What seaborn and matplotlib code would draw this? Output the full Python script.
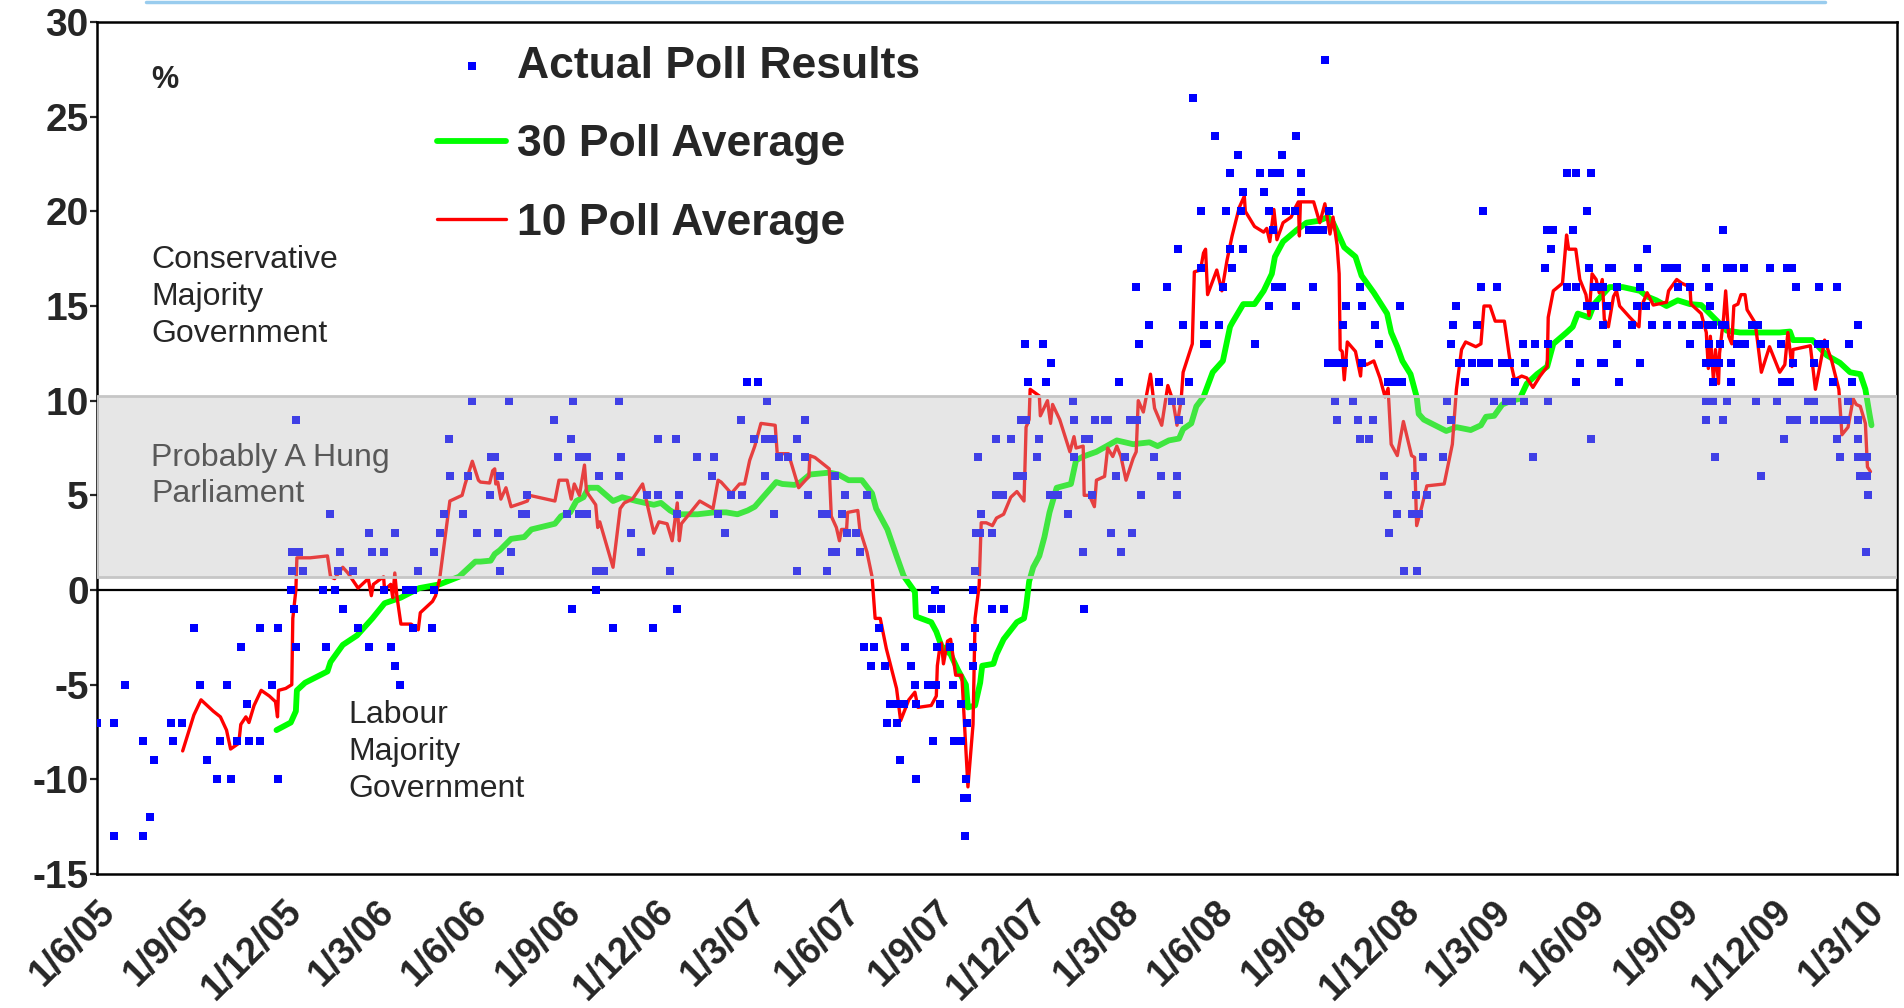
import pandas as pd
import numpy as np
import seaborn as sns
import matplotlib.pyplot as plt
import matplotlib.transforms as mtransforms
from matplotlib.lines import Line2D

START = pd.Timestamp("2005-06-01")
END = pd.Timestamp("2010-04-01")

# individual polls: days after 1 June 2005 and Conservative lead over Labour (points)
poll_day = [
    0, 17, 17, 27, 45, 45, 52, 56, 73, 75, 83, 95, 101, 108, 118, 121, 127, 131, 137, 141,
    147, 149, 160, 160, 172, 177, 177, 190, 191, 191, 193, 195, 195, 198, 202, 222, 225, 228, 233, 236,
    238, 241, 251, 256, 267, 267, 270, 281, 281, 288, 292, 292, 297, 303, 310, 310, 315, 328, 330, 330,
    336, 340, 345, 346, 359, 364, 368, 373,
    385, 386, 390, 393, 395, 395, 404, 406, 417, 421, 422, 448, 452, 461, 465, 466, 467, 473, 473, 480,
    480, 489, 489, 492, 497, 506, 512, 512, 514, 524, 533, 539, 545, 550, 550, 562, 568, 569, 569, 571,
    588, 603, 605, 609, 616, 622, 631, 632, 637, 644, 648, 655, 655, 657, 663, 664, 669, 678, 686, 686,
    694, 694, 697, 711, 716, 716, 721, 724, 725, 731, 733, 735, 744, 748,
    752, 755, 759, 762, 767, 773, 775, 778, 784, 785, 787, 791, 792, 798, 802, 803, 803, 815, 819, 820,
    822, 823, 824, 827, 828, 836, 839, 840, 847, 847, 850, 851, 852, 853, 853, 859, 859, 859, 861, 861,
    862, 864, 866, 867, 878, 878, 882, 882, 888, 889, 896, 902, 906, 908, 910, 911, 913, 922, 924, 928,
    931, 934, 935, 942, 952, 957, 958, 958, 967, 968, 969, 973, 976, 979, 988, 991, 994, 999, 1002, 1004,
    1008, 1013, 1015, 1020, 1022, 1024, 1032, 1036, 1041, 1043, 1054, 1059, 1059, 1061, 1063, 1065, 1071,
    1085, 1085, 1088, 1100, 1135,
    1019, 1049, 1060, 1075, 1083, 1083, 1096, 1104, 1107, 1111, 1111, 1113, 1119, 1122, 1124, 1124,
    1140, 1144, 1149, 1149, 1152, 1153, 1155, 1160, 1162, 1162, 1166, 1175, 1176, 1176, 1181, 1181, 1188,
    1192, 1195, 1202, 1204, 1207, 1208, 1214, 1215, 1216, 1222, 1223, 1225, 1232, 1236, 1238, 1238, 1240,
    1240, 1247, 1251, 1253, 1257, 1262, 1266, 1266, 1267, 1274, 1275, 1278, 1280, 1282, 1289, 1292, 1293,
    1294, 1296, 1300, 1304, 1320, 1324, 1328, 1328, 1330, 1333, 1336,
    1337, 1341, 1348, 1353, 1357, 1357, 1359, 1365, 1370, 1373, 1378, 1382, 1386, 1387, 1390, 1398, 1399,
    1400, 1408, 1410, 1420, 1422, 1423, 1423, 1426, 1428, 1441, 1441, 1443, 1447, 1450, 1450, 1450, 1454,
    1461, 1461, 1463, 1465, 1465, 1468, 1469, 1474, 1475, 1477, 1477, 1478, 1481, 1483, 1486, 1490, 1490,
    1492, 1505, 1510, 1511, 1513, 1513, 1519, 1520, 1525, 1538, 1539, 1544, 1549, 1550, 1554, 1562, 1562,
    1568, 1571, 1578, 1578, 1578, 1578, 1580, 1581, 1581, 1582, 1585, 1585, 1585, 1585, 1587, 1590, 1591,
    1593, 1594, 1594, 1596, 1598, 1598, 1602, 1602, 1604, 1608, 1615, 1616, 1623, 1627, 1629, 1632, 1632,
    1640, 1647, 1651, 1652, 1654, 1657, 1660, 1660, 1662, 1663, 1666, 1667, 1678, 1684, 1684, 1684, 1688,
    1689, 1693, 1694, 1701, 1702, 1706, 1706, 1709, 1709, 1715, 1717, 1718, 1721, 1727, 1727, 1727, 1727,
    1729, 1732, 1734, 1735, 1736, 1736, 1737,
]
poll_lead = [
    -7, -7, -13, -5, -8, -13, -12, -9, -7, -8, -7, -2, -5, -9, -10, -8, -5, -10, -8, -3,
    -6, -8, -2, -8, -5, -2, -10, 0, 2, 1, -1, 9, -3, 2, 1, 0, -3, 4, 0, 1,
    2, -1, 1, -2, 3, -3, 2, 2, 0, -3, 3, -4, -5, 0, 0, -2, 1, -2, 0, 2,
    3, 4, 8, 6, 4, 6, 10, 3,
    5, 7, 7, 3, 6, 1, 10, 2, 4, 4, 5, 9, 7, 4, 8, -1, 10, 7, 4, 7,
    4, 1, 0, 6, 1, -2, 10, 6, 7, 3, 2, 5, -2, 8, 5, 1, 8, 4, -1, 5,
    7, 6, 7, 4, 3, 5, 9, 5, 11, 8, 11, 8, 6, 10, 8, 4, 7, 7, 8, 1,
    9, 7, 5, 4, 4, 1, 2, 6, 2, 4, 5, 3, 3, 2,
    -3, 5, -4, -3, -2, -4, -7, -6, -7, -6, -9, -6, -3, -4, -5, -6, -10, -5, -1, -8,
    0, -5, -3, -6, -1, -3, -5, -8, -6, -8, -11, -13, -10, -7, -11, 0, -3, -4, 1, -2,
    3, 7, 3, 4, 3, -1, 8, 5, 5, -1, 8, 6, 9, 6, 13, 9, 11, 7, 8, 13,
    11, 5, 12, 5, 4, 10, 9, 7, 2, -1, 8, 8, 5, 9, 9, 9, 3, 6, 11, 2,
    7, 9, 3, 9, 13, 5, 14, 7, 11, 6, 10, 6, 5, 9, 10, 14, 11,
    14, 13, 13, 14, 13,
    16, 16, 18, 26, 20, 17, 24, 16, 20, 22, 18, 17, 23, 20, 21, 18,
    22, 21, 20, 15, 22, 19, 16, 22, 23, 16, 20, 20, 24, 15, 22, 21, 19,
    16, 19, 19, 28, 12, 20, 10, 12, 9, 14, 12, 15, 10, 9, 16, 8, 15,
    12, 8, 9, 14, 13, 6, 11, 5, 3, 11, 4, 15, 11, 1, 4, 6, 5,
    1, 4, 7, 5, 7, 10, 13, 9, 14, 15, 12,
    12, 11, 12, 14, 12, 16, 20, 12, 10, 16, 12, 10, 12, 10, 11, 13, 10,
    12, 7, 13, 17, 19, 13, 10, 18, 19, 22, 16, 13, 19, 22, 16, 11, 12,
    20, 15, 17, 22, 8, 16, 15, 16, 12, 16, 14, 12, 15, 17, 17, 16, 13,
    11, 14, 15, 17, 16, 12, 15, 18, 14, 17, 14, 17, 17, 16, 14, 16, 13,
    14, 14, 17, 12, 10, 9, 14, 16, 13, 15, 14, 12, 11, 10, 7, 12, 13,
    14, 19, 9, 14, 17, 10, 12, 11, 17, 13, 17, 13, 14, 10, 14, 13, 6,
    17, 10, 13, 11, 8, 17, 11, 9, 17, 12, 16, 9, 10, 10, 12, 9, 13,
    16, 9, 13, 9, 11, 16, 8, 9, 7, 9, 10, 13, 11, 14, 9, 8, 7,
    6, 7, 6, 2, 7, 6, 5,
]

# 10 poll moving average
ma10_day = [
    84, 95, 102, 114, 121, 127, 131, 139, 141, 146, 149, 154, 161, 169, 175, 177, 178, 185, 191, 192,
    195, 196, 209, 226, 229, 233, 241, 246, 256, 266, 269, 271, 281, 282, 288, 290, 292, 294, 298, 308,
    315, 317, 329, 332, 336, 346, 358, 361, 368, 374,
    376, 385, 388, 390, 391, 393, 396, 401, 406, 417, 422, 424, 449, 453, 461, 465, 468, 473, 478, 480,
    489, 491, 493, 506, 513, 517, 525, 535, 546, 551, 559, 564, 569, 571, 573, 591, 604, 609, 612, 622,
    630, 635, 640, 645, 651, 665, 667, 678, 688, 698, 699, 704, 718, 720, 725, 728, 730, 735, 736, 746,
    748, 755, 760, 763, 768, 774, 784, 788, 796, 802, 805, 818, 823, 824, 826, 828, 830, 834, 837, 842,
    848, 852, 854, 859, 861, 865, 867, 872, 878, 882, 889, 896, 902, 909, 911, 914, 915, 924, 925, 932,
    935, 937, 944, 954, 958, 960, 967, 968, 973, 978, 980, 988, 991, 996, 1000, 1004, 1009, 1016, 1019, 1021,
    1026, 1033, 1037, 1044, 1050, 1055, 1059, 1063, 1065, 1071,
    1074, 1076, 1082, 1085, 1087, 1089, 1098, 1103, 1108, 1113, 1120, 1125, 1126, 1135, 1144, 1147, 1150,
    1154, 1157, 1163, 1171, 1175, 1178, 1179, 1180, 1193, 1199, 1204, 1209, 1212, 1216, 1218, 1219, 1221,
    1223, 1226, 1234, 1239, 1240, 1245, 1252, 1258, 1263, 1266, 1269, 1275, 1281, 1289, 1292, 1294, 1299,
    1304, 1321, 1329, 1333, 1338, 1342, 1352, 1357, 1360, 1366, 1371, 1380, 1385, 1390, 1397, 1402, 1408,
    1415, 1422, 1423, 1428, 1437, 1441, 1443, 1450, 1454, 1460, 1463, 1466, 1470, 1473, 1476, 1478, 1482,
    1487, 1490, 1493, 1503, 1512, 1513, 1520, 1526, 1539, 1541, 1549, 1554, 1562, 1563, 1573, 1578, 1580,
    1582, 1585, 1587, 1590, 1591, 1595, 1597, 1600, 1603, 1605, 1609, 1612, 1616, 1618, 1626, 1632, 1640,
    1650, 1655, 1658, 1662, 1663, 1680, 1685, 1691, 1694, 1701, 1708, 1711, 1717, 1722, 1725, 1729, 1734,
    1736, 1739,
]
ma10_val = [
    -8.5, -6.6, -5.8, -6.4, -6.7, -7.4, -8.4, -8.1, -7.1, -6.7, -7.0, -6.1, -5.3, -5.6, -5.9, -6.7, -5.3, -5.2, -5.0, -1.5,
    0.0, 1.7, 1.7, 1.8, 0.7, 0.6, 1.2, 0.9, 0.1, 0.6, -0.3, 0.3, 0.7, 0.0, 0.3, -0.4, 0.9, -0.3, -1.8, -1.8,
    -2.1, -1.2, -0.6, -0.3, 0.6, 4.7, 5.0, 5.6, 6.8, 5.8,
    5.7, 5.65, 6.3, 6.4, 5.6, 5.7, 4.8, 5.4, 4.4, 4.6, 4.7, 5.0, 4.7, 5.8, 5.8, 4.8, 5.6, 5.0, 6.6, 5.2,
    4.5, 3.3, 3.6, 1.2, 4.3, 4.6, 4.8, 5.6, 3.0, 3.6, 3.5, 2.6, 4.6, 2.6, 3.5, 4.7, 4.3, 5.8, 5.7, 5.1,
    5.6, 5.6, 6.85, 7.6, 8.8, 8.7, 7.2, 7.2, 5.4, 6.0, 7.1, 7.0, 6.4, 3.9, 3.3, 2.6, 3.2, 3.2, 4.1, 4.2,
    3.2, 2.0, 0.7, -1.5, -1.5, -3.1, -5.2, -6.9, -5.8, -5.4, -6.2, -6.1, -5.6, -4.0, -3.2, -2.8, -3.9, -2.7, -2.6, -4.5,
    -4.5, -8.5, -10.4, -7.1, -1.5, 0.25, 3.55, 3.55, 3.4, 3.8, 4.0, 4.9, 5.2, 4.7, 8.6, 9.0, 10.6, 10.25, 9.2, 10.0,
    8.8, 9.8, 9.0, 7.3, 8.1, 7.5, 7.6, 5.0, 5.0, 4.4, 5.8, 6.0, 7.5, 7.05, 7.6, 7.05, 5.8, 6.95, 7.3, 10.0,
    9.4, 11.4, 9.6, 8.7, 10.8, 10.0, 8.7, 10.0, 11.5, 12.5,
    13.0, 16.8, 16.9, 17.8, 18.0, 15.6, 16.9, 15.8, 17.4, 18.7, 20.2, 20.8, 20.0, 19.2, 18.9, 19.1, 18.4,
    20.1, 18.5, 19.4, 19.7, 20.2, 20.5, 18.7, 20.5, 20.5, 19.4, 20.4, 18.8, 19.7, 18.2, 16.7, 12.7, 12.6,
    11.1, 13.1, 12.6, 11.3, 12.1, 11.9, 12.1, 11.2, 10.2, 10.65, 7.7, 7.1, 8.9, 7.1, 7.0, 3.4, 4.4,
    5.5, 5.6, 7.7, 10.6, 12.7, 13.1, 12.85, 13.0, 15.0, 15.0, 14.2, 14.2, 12.3, 11.1, 11.3, 11.2, 10.7,
    11.3, 11.8, 14.4, 15.8, 16.2, 18.75, 18.0, 18.0, 16.4, 15.6, 14.5, 16.7, 16.4, 15.7, 16.4, 14.3, 13.9,
    15.5, 15.8, 15.0, 14.4, 13.9, 14.8, 15.7, 15.05, 15.2, 15.8, 16.4, 16.2, 16.0, 15.1, 14.6, 13.6, 11.7,
    13.4, 11.1, 12.7, 10.9, 12.5, 14.4, 15.8, 13.4, 13.0, 15.0, 15.1, 15.6, 15.6, 14.8, 14.1, 11.5, 12.85,
    11.5, 11.9, 13.6, 11.8, 12.7, 12.9, 10.6, 12.3, 13.2, 12.1, 10.6, 8.2, 8.6, 10.1, 9.8, 9.7, 8.8,
    6.5, 6.25,
]

# 30 poll moving average
ma30_day = [
    176, 190, 195, 196, 204, 226, 229, 241, 255, 270, 282, 298, 316, 336, 355, 371,
    376, 386, 390, 395, 406, 419, 426, 449, 455, 464, 470, 477, 482, 491, 506, 515, 529, 546, 553, 562,
    569, 589, 605, 617, 628, 638, 645, 653, 666, 672, 684, 690, 699, 718, 727, 737,
    750, 760, 764, 775, 784, 791, 802, 803, 818, 823, 828, 837, 844, 852, 854, 861, 866, 868, 879, 882,
    889, 902, 909, 911, 914, 918, 924, 929, 934, 941, 955, 960, 967, 980, 990, 1000, 1016, 1032, 1040, 1051,
    1061, 1065, 1073, 1078, 1085, 1094, 1104, 1111, 1113, 1124, 1135, 1144, 1152, 1155, 1163, 1176, 1186,
    1198, 1207, 1212, 1218, 1223, 1234, 1240, 1252, 1265, 1269, 1275, 1280, 1288, 1294, 1296, 1301, 1323,
    1333, 1347, 1357, 1362, 1370, 1378, 1387, 1395, 1402, 1412, 1422, 1428, 1441, 1447, 1452, 1463, 1468,
    1483, 1496, 1513, 1520, 1529, 1539, 1550, 1562, 1573, 1585, 1598, 1611, 1631, 1650, 1660, 1663, 1682,
    1696, 1709, 1719, 1729, 1734, 1738, 1740,
]
ma30_val = [
    -7.4, -7.0, -6.4, -5.3, -4.9, -4.3, -3.8, -2.9, -2.4, -1.5, -0.7, -0.4, 0.1, 0.3, 0.7, 1.5,
    1.5, 1.55, 1.9, 2.1, 2.7, 2.8, 3.2, 3.5, 3.9, 4.1, 4.7, 4.9, 5.4, 5.4, 4.7, 4.9, 4.7, 4.5, 4.6, 4.2,
    4.0, 4.0, 4.1, 4.1, 4.0, 4.2, 4.4, 4.9, 5.7, 5.6, 5.55, 5.7, 6.1, 6.2, 6.1, 5.8,
    5.8, 5.1, 4.3, 3.2, 1.8, 0.74, -0.1, -1.4, -1.7, -2.2, -2.95, -3.4, -4.2, -5.0, -6.2, -6.1, -4.9, -4.0, -3.9, -3.4,
    -2.6, -1.7, -1.5, -0.9, 0.45, 1.2, 1.8, 2.8, 4.1, 5.4, 5.6, 6.85, 7.05, 7.3, 7.6, 7.9, 7.7, 7.8, 7.6, 7.9,
    8.0, 8.5, 8.8, 9.7, 10.2, 11.5, 12.1, 13.9, 14.1, 15.1, 15.1, 15.8, 16.7, 17.6, 18.4, 19.0, 19.4,
    19.5, 19.7, 19.4, 18.7, 18.1, 17.6, 16.6, 15.7, 14.6, 13.6, 12.85, 12.1, 11.4, 10.2, 9.3, 9.0, 8.4,
    8.6, 8.45, 8.7, 9.15, 9.2, 9.8, 10.0, 10.1, 10.9, 11.4, 11.8, 13.0, 13.6, 13.9, 14.6, 14.4, 15.1,
    16.0, 16.0, 15.8, 15.5, 15.3, 15.0, 15.3, 15.1, 15.05, 14.4, 13.7, 13.6, 13.6, 13.6, 13.65, 13.2, 13.2,
    12.4, 12.0, 11.5, 11.4, 10.6, 9.3, 8.7,
]

# lead of 0.7 to 10.25 points: probably a hung parliament
hung_low, hung_high = 0.7, 10.25

tick_dates = pd.date_range(START, "2010-03-01", freq="3MS")
tick_labels = [f"{d.day}/{d.month}/{d:%y}" for d in tick_dates]


polls = pd.DataFrame({"date": START + pd.to_timedelta(poll_day, unit="D"), "lead": poll_lead})
ma10 = pd.DataFrame({"date": START + pd.to_timedelta(ma10_day, unit="D"), "lead": ma10_val})
ma30 = pd.DataFrame({"date": START + pd.to_timedelta(ma30_day, unit="D"), "lead": ma30_val})

sns.set_style("white")
plt.rcParams["font.family"] = ["Liberation Sans", "DejaVu Sans"]
plt.rcParams["axes.unicode_minus"] = False

fig = plt.figure(figsize=(19.04, 10.08), dpi=100)
ax = fig.add_axes([97 / 1904, 1 - 874 / 1008, 1800 / 1904, 852 / 1008])

ax.axhline(0, color="black", lw=1.6, zorder=1)

sns.lineplot(data=ma30, x="date", y="lead", color="#00FF00", lw=4.2, estimator=None, sort=False,
             ax=ax, label="30 Poll Average", zorder=2)
sns.lineplot(data=ma10, x="date", y="lead", color="#FF0000", lw=2.4, estimator=None, sort=False,
             ax=ax, label="10 Poll Average", zorder=3)
sns.scatterplot(data=polls, x="date", y="lead", marker="s", s=34, color="#0000FF", linewidth=0,
                ax=ax, label="Actual Poll Results", zorder=4)

# translucent band drawn over the data, like the original
ax.axhspan(hung_low, hung_high, facecolor=(0.72, 0.72, 0.72, 0.35), edgecolor="#c6c6c6", lw=2, zorder=5)

ax.set_xlim(START, END)
ax.set_ylim(-15, 30)
ax.set_yticks(range(-15, 31, 5))
ax.set_xlabel("")
ax.set_ylabel("")

ax.set_xticks(tick_dates)
ax.set_xticklabels(tick_labels, rotation=45, ha="right", va="top", rotation_mode="anchor",
                   fontsize=27, fontweight="bold")
shift = mtransforms.ScaledTranslation(-0.50, 0, fig.dpi_scale_trans)
for lab in ax.get_xticklabels():
    lab.set_transform(lab.get_transform() + shift)
ax.tick_params(axis="x", length=0, pad=14)
ax.tick_params(axis="y", length=5, width=1.6, direction="out", pad=1, labelsize=28, left=True)
for lab in ax.get_yticklabels():
    lab.set_fontweight("bold")

for sp in ax.spines.values():
    sp.set_visible(True)
    sp.set_color("black")
    sp.set_linewidth(1.8)

# legend in the order of the original
handles, labels = ax.get_legend_handles_labels()
order = [labels.index(l) for l in ["Actual Poll Results", "30 Poll Average", "10 Poll Average"]]
ax.legend([handles[i] for i in order], [labels[i] for i in order],
          loc="upper left", bbox_to_anchor=(0.189, 0.972), frameon=False,
          prop={"weight": "bold", "size": 32}, handlelength=1.55, handletextpad=0.25,
          labelspacing=0.84, borderpad=0, borderaxespad=0)

ax.text(0.0378, 0.932, "%", transform=ax.transAxes, fontsize=22, fontweight="bold",
        ha="center", va="center")
ax.text(0.030, 0.677, "Conservative\nMajority\nGovernment", transform=ax.transAxes,
        fontsize=23, ha="left", va="center", linespacing=1.3)
ax.text(0.030, 0.467, "Probably A Hung\nParliament", transform=ax.transAxes,
        fontsize=23, ha="left", va="center", color="#595959", linespacing=1.25, zorder=6)
ax.text(0.1395, 0.143, "Labour\nMajority\nGovernment", transform=ax.transAxes,
        fontsize=23, ha="left", va="center", linespacing=1.3)

# thin light blue rule along the very top of the picture
fig.add_artist(Line2D([146 / 1904, 1825 / 1904], [1 - 1.5 / 1008] * 2, color="#99ccee", lw=2.5,
                      transform=fig.transFigure))

fig.savefig("out.png", dpi=100)
